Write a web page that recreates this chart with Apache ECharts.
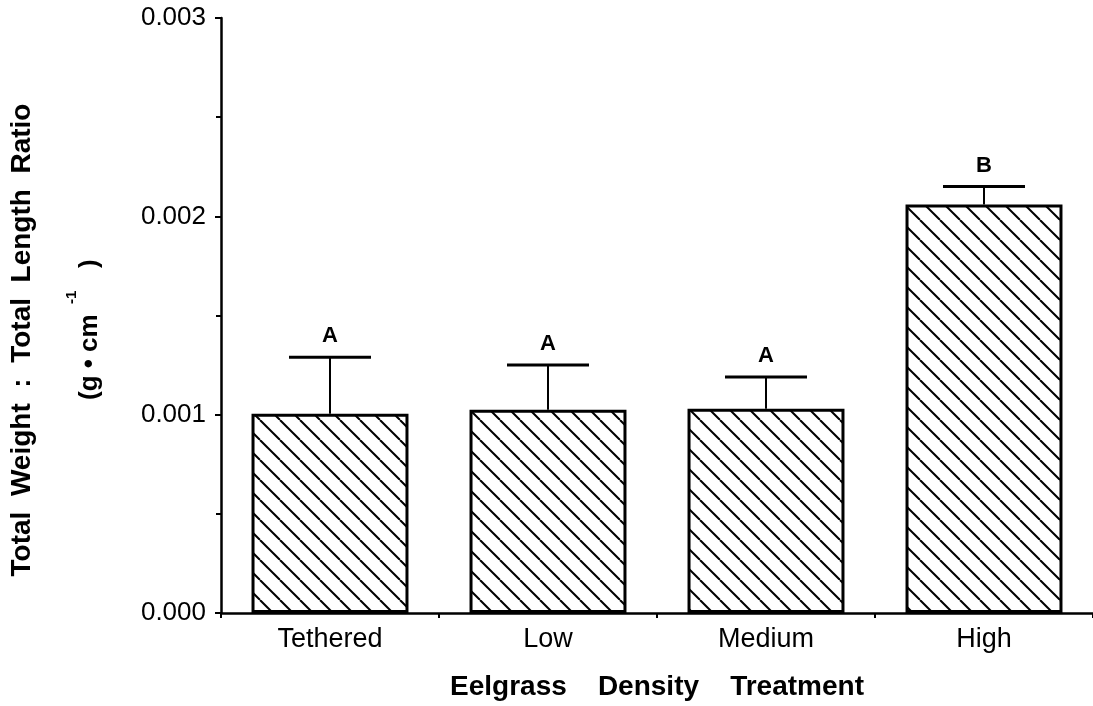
<!DOCTYPE html>
<html>
<head>
<meta charset="utf-8">
<script src="https://cdn.jsdelivr.net/npm/echarts@6/dist/echarts.min.js"></script>
<style>
html,body{margin:0;padding:0;background:#fff;}
#chart{width:1093px;height:706px;}
</style>
</head>
<body>
<div id="chart"></div>
<script>
// ---- data ----
var categories = ['Tethered', 'Low', 'Medium', 'High'];
var meanValues = [0.001005, 0.001025, 0.00103, 0.00206];
var errorTops = [0.00129, 0.00125, 0.00119, 0.00215];
var groupLetters = ['A', 'A', 'A', 'B'];
var yTicks = [0, 0.001, 0.002, 0.003];

var FONT = 'Liberation Sans, Arial, Helvetica, sans-serif';

// hatch pattern
var pc = document.createElement('canvas');
pc.width = 20; pc.height = 20;
var g = pc.getContext('2d');
g.fillStyle = '#fff';
g.fillRect(0, 0, 20, 20);
g.strokeStyle = '#000';
g.lineWidth = 2;
for (var k = -1; k <= 1; k++) {
  g.beginPath();
  g.moveTo(k * 20, 0);
  g.lineTo(k * 20 + 20, 20);
  g.stroke();
}

var errData = categories.map(function (c, i) { return [i, meanValues[i], errorTops[i]]; });

var chart = echarts.init(document.getElementById('chart'), null, {renderer: 'canvas'});
chart.setOption({
  backgroundColor: '#fff',
  animation: false,
  grid: {left: 221, right: 0, top: 18, bottom: 93, containLabel: false},
  xAxis: {
    type: 'category',
    data: categories,
    axisLine: {lineStyle: {color: '#000', width: 2.5}},
    axisTick: {show: true, length: 5, lineStyle: {color: '#000', width: 2}},
    axisLabel: {color: '#000', fontSize: 27, fontFamily: FONT, margin: 13},
    name: 'Eelgrass    Density    Treatment',
    nameLocation: 'middle',
    nameGap: 60,
    nameTextStyle: {color: '#000', fontSize: 28, fontWeight: 'bold', fontFamily: FONT}
  },
  yAxis: {
    type: 'value',
    min: yTicks[0],
    max: yTicks[yTicks.length - 1],
    interval: 0.001,
    axisLine: {show: true, lineStyle: {color: '#000', width: 2.5}},
    axisTick: {show: true, length: 6, lineStyle: {color: '#000', width: 2}},
    minorTick: {show: true, splitNumber: 2, length: 5, lineStyle: {color: '#000', width: 2}},
    splitLine: {show: false},
    axisLabel: {
      color: '#000', fontSize: 26, fontFamily: FONT, margin: 15,
      formatter: function (v) { return v.toFixed(3); }
    }
  },
  series: [
    {
      type: 'bar',
      data: meanValues,
      barWidth: '72%',
      itemStyle: {
        color: {image: pc, repeat: 'repeat'},
        borderColor: '#000',
        borderWidth: 3
      },
      z: 2
    },
    {
      type: 'custom',
      data: errData,
      z: 3,
      renderItem: function (params, api) {
        var x = api.value(0);
        var base = api.coord([x, api.value(1)]);
        var top = api.coord([x, api.value(2)]);
        var half = 41;
        return {
          type: 'group',
          children: [
            {type: 'line', shape: {x1: base[0], y1: base[1], x2: top[0], y2: top[1]},
             style: {stroke: '#000', lineWidth: 2}},
            {type: 'line', shape: {x1: top[0] - half, y1: top[1], x2: top[0] + half, y2: top[1]},
             style: {stroke: '#000', lineWidth: 3}},
            {type: 'text', x: top[0], y: top[1] - 10,
             style: {text: groupLetters[params.dataIndex], align: 'center', verticalAlign: 'bottom',
                     textAlign: 'center', textVerticalAlign: 'bottom',
                     font: 'bold 22px ' + FONT, fill: '#000'}}
          ]
        };
      }
    }
  ],
  graphic: [
    {type: 'text', x: 22, y: 340, rotation: Math.PI / 2,
     style: {text: 'Total  Weight  :  Total  Length  Ratio', x: 0, y: 0,
             align: 'center', verticalAlign: 'middle', textAlign: 'center', textVerticalAlign: 'middle',
             font: 'bold 28px ' + FONT, fill: '#000'}},
    {type: 'text', x: 90, y: 400, rotation: Math.PI / 2,
     style: {text: '(g \u2022 cm', x: 0, y: 0,
             align: 'left', verticalAlign: 'middle', textAlign: 'left', textVerticalAlign: 'middle',
             font: 'bold 26px ' + FONT, fill: '#000'}},
    {type: 'text', x: 72, y: 304, rotation: Math.PI / 2,
     style: {text: '-1', x: 0, y: 0,
             align: 'left', verticalAlign: 'middle', textAlign: 'left', textVerticalAlign: 'middle',
             font: 'bold 15px ' + FONT, fill: '#000'}},
    {type: 'text', x: 90, y: 268, rotation: Math.PI / 2,
     style: {text: ')', x: 0, y: 0,
             align: 'left', verticalAlign: 'middle', textAlign: 'left', textVerticalAlign: 'middle',
             font: 'bold 26px ' + FONT, fill: '#000'}}
  ]
});
</script>
</body>
</html>
